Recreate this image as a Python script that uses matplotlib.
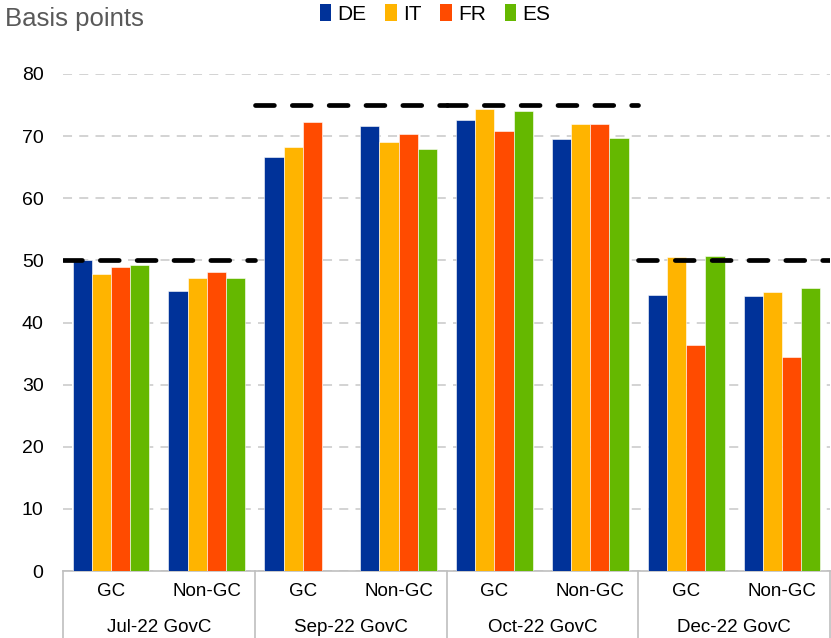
import numpy as np
import matplotlib.pyplot as plt
from matplotlib.patches import Patch
from matplotlib.transforms import blended_transform_factory

plt.rcParams['font.family'] = ['Liberation Sans', 'DejaVu Sans']

meetings = ['Jul-22 GovC', 'Sep-22 GovC', 'Oct-22 GovC', 'Dec-22 GovC']
subgroups = ['GC', 'Non-GC']
countries = ['DE', 'IT', 'FR', 'ES']
colors = ['#003299', '#FFB400', '#FF4B00', '#65B800']

# basis points, order: Jul GC, Jul Non-GC, Sep GC, Sep Non-GC, Oct GC, Oct Non-GC, Dec GC, Dec Non-GC
de = [50.1, 45.1, 66.7, 71.7, 72.6, 69.5, 44.4, 44.3]
it = [47.8, 47.2, 68.2, 69.0, 74.3, 72.0, 50.6, 44.9]
fr = [49.0, 48.1, 72.3, 70.3, 70.8, 71.9, 36.4, 34.5]
es = [49.3, 47.2, np.nan, 68.0, 74.0, 69.7, 50.7, 45.5]
policy_hike = [50, 75, 75, 50]

series = [de, it, fr, es]

fig = plt.figure(figsize=(8.31, 6.38), dpi=100)
ax = fig.add_axes([63 / 831, 67 / 638, 767 / 831, 497 / 638])

n = len(de)
x = np.arange(n)
w = 0.2
for i, (vals, c) in enumerate(zip(series, colors)):
    ax.bar(x + (i - 1.5) * w, vals, w, color=c, edgecolor='white', linewidth=0.4, zorder=3)

# rate hike reference lines
for m, hike in enumerate(policy_hike):
    ax.plot([2 * m - 0.5, 2 * m + 1.5], [hike, hike], color='black', lw=3.4,
            dashes=(4, 3.8), dash_capstyle='round', zorder=4)

ax.set_xlim(-0.5, n - 0.5)
ax.set_ylim(0, 80)
ax.set_yticks(np.arange(0, 81, 10))
ax.yaxis.grid(True, color='#d0d0d0', ls=(0, (5, 4)), lw=1.3, zorder=0)
ax.tick_params(axis='y', length=0, labelsize=14, pad=14)
ax.tick_params(axis='x', length=0, labelbottom=False)
for s in ['top', 'right', 'left']:
    ax.spines[s].set_visible(False)
ax.spines['bottom'].set_color('#bfbfbf')
ax.spines['bottom'].set_linewidth(1.2)

# two-level category axis
trans = blended_transform_factory(ax.transData, ax.transAxes)
for i in range(n):
    ax.text(x[i], -0.042, subgroups[i % 2], transform=trans, ha='center', va='center', fontsize=13.5)
for m, name in enumerate(meetings):
    ax.text(2 * m + 0.5, -0.113, name, transform=trans, ha='center', va='center', fontsize=13.5)
for b in np.arange(-0.5, n, 2):
    ax.plot([b, b], [0, -0.14], transform=trans, color='#bfbfbf', lw=1.2, clip_on=False)

fig.text(5 / 831, 1 - 19 / 638, 'Basis points', fontsize=18.5, color='#595959', va='center')

handles = [Patch(facecolor=c, label=l) for c, l in zip(colors, countries)]
fig.legend(handles=handles, loc='center', bbox_to_anchor=(435 / 831, 1 - 14 / 638), ncol=4,
           frameon=False, fontsize=15, handlelength=0.55, handleheight=0.85,
           handletextpad=0.3, columnspacing=0.9)

fig.savefig('out.png', dpi=100)
